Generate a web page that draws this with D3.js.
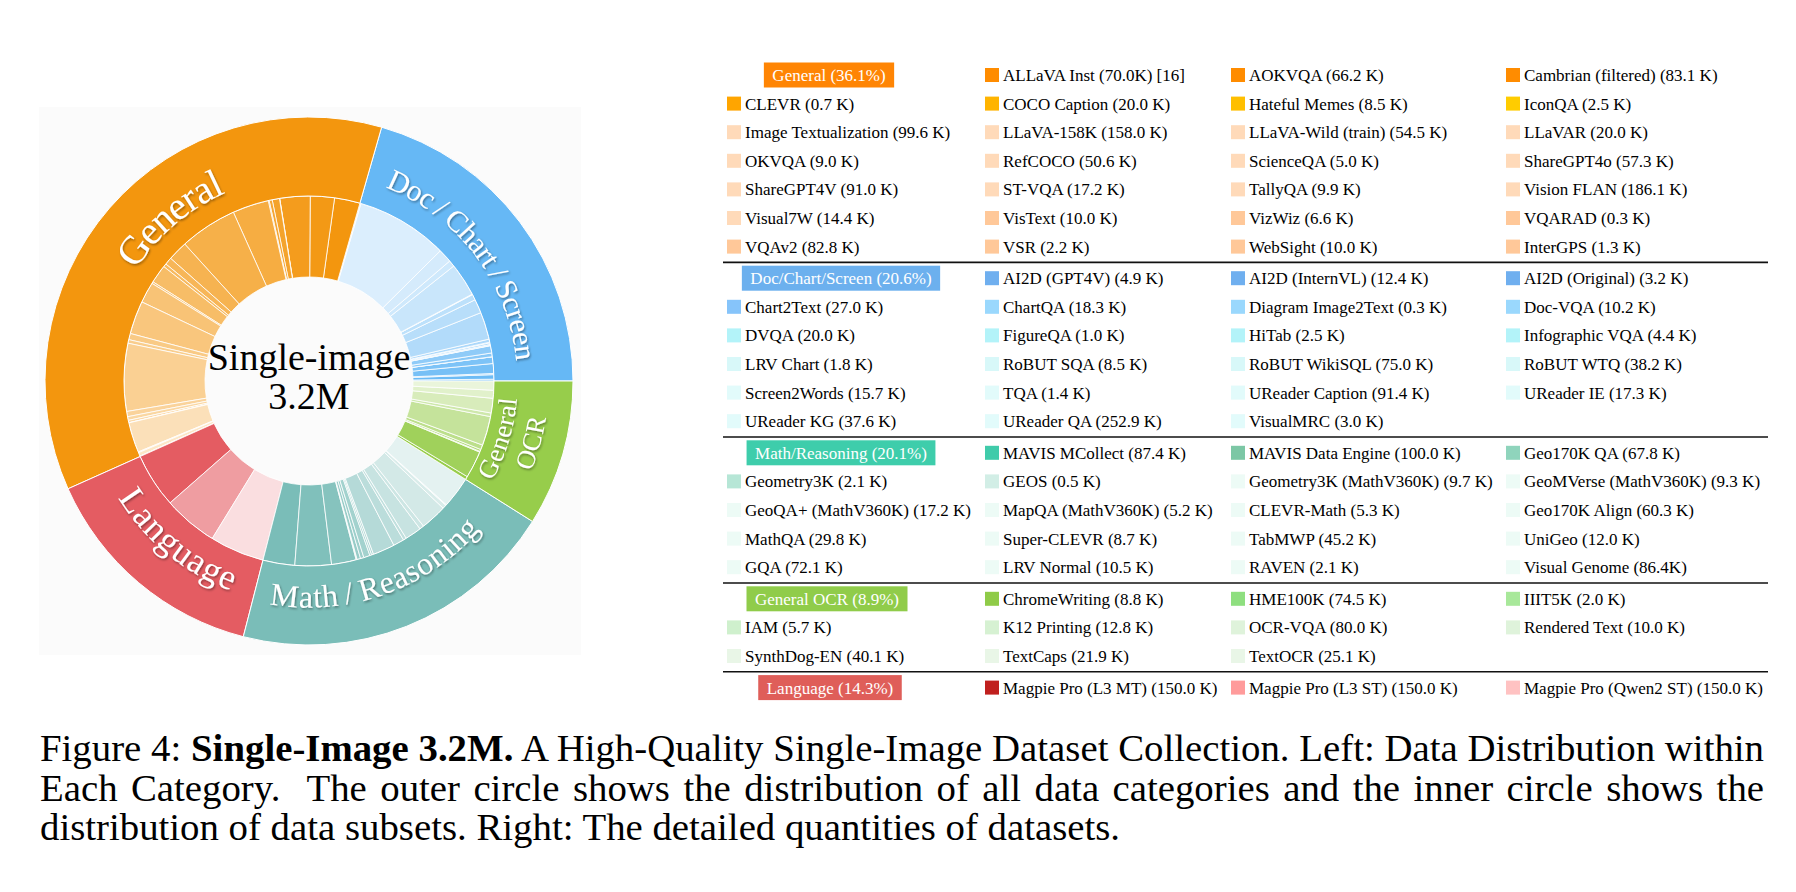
<!DOCTYPE html>
<html><head><meta charset="utf-8">
<script src="https://cdn.jsdelivr.net/npm/d3@7"></script>
<style>body{margin:0;background:#fff;} svg{display:block;}</style>
</head><body>
<svg id="chart" width="1796" height="892"></svg>
<script>
// ---------------- DATA (values in K) ----------------
const generalNames = ["ALLaVA Inst","AOKVQA","Cambrian (filtered)","CLEVR","COCO Caption","Hateful Memes","IconQA","Image Textualization","LLaVA-158K","LLaVA-Wild (train)","LLaVAR","OKVQA","RefCOCO","ScienceQA","ShareGPT4o","ShareGPT4V","ST-VQA","TallyQA","Vision FLAN","Visual7W","VisText","VizWiz","VQARAD","VQAv2","VSR","WebSight","InterGPS"];
const generalValues = [70.0,66.2,83.1,0.7,20.0,8.5,2.5,99.6,158.0,54.5,20.0,9.0,50.6,5.0,57.3,91.0,17.2,9.9,186.1,14.4,10.0,6.6,0.3,82.8,2.2,10.0,1.3];

const docNames = ["AI2D (GPT4V)","AI2D (InternVL)","AI2D (Original)","Chart2Text","ChartQA","Diagram Image2Text","Doc-VQA","DVQA","FigureQA","HiTab","Infographic VQA","LRV Chart","RoBUT SQA","RoBUT WikiSQL","RoBUT WTQ","Screen2Words","TQA","UReader Caption","UReader IE","UReader KG","UReader QA","VisualMRC"];
const docValues = [4.9,12.4,3.2,27.0,18.3,0.3,10.2,20.0,1.0,2.5,4.4,1.8,8.5,75.0,38.2,15.7,1.4,91.4,17.3,37.6,252.9,3.0];

const mathNames = ["MAVIS MCollect","MAVIS Data Engine","Geo170K QA","Geometry3K","GEOS","Geometry3K (MathV360K)","GeoMVerse (MathV360K)","GeoQA+ (MathV360K)","MapQA (MathV360K)","CLEVR-Math","Geo170K Align","MathQA","Super-CLEVR","TabMWP","UniGeo","GQA","LRV Normal","RAVEN","Visual Genome"];
const mathValues = [87.4,100.0,67.8,2.1,0.5,9.7,9.3,17.2,5.2,5.3,60.3,29.8,8.7,45.2,12.0,72.1,10.5,2.1,86.4];

const ocrNames = ["ChromeWriting","HME100K","IIIT5K","IAM","K12 Printing","OCR-VQA","Rendered Text","SynthDog-EN","TextCaps","TextOCR"];
const ocrValues = [8.8,74.5,2.0,5.7,12.8,80.0,10.0,40.1,21.9,25.1];

const languageNames = ["Magpie Pro (L3 MT)","Magpie Pro (L3 ST)","Magpie Pro (Qwen2 ST)"];
const languageValues = [150.0,150.0,150.0];

const categoryNames = ["General","Doc/Chart/Screen","Math/Reasoning","General OCR","Language"];
const categoryRingLabels = [["General"],["Doc\u2009/\u2009Chart\u2009/\u2009Screen"],["Math\u2009/\u2009Reasoning"],["General","OCR"],["Language"]];
const centerLabel = ["Single-image","3.2M"];
const compactUnitNames = ["ALLaVA Inst","Visual Genome"];
const citationSuffix = {"ALLaVA Inst":" [16]"};
const captionLines = [
  [["Figure 4: ",false],["Single-Image 3.2M.",true],[" A High-Quality Single-Image Dataset Collection. Left: Data Distribution within",false]],
  [["Each Category.  The outer circle shows the distribution of all data categories and the inner circle shows the",false]],
  [["distribution of data subsets. Right: The detailed quantities of datasets.",false]]
];

// ---------------- STYLES ----------------
const ringColors = {"General":"#F3960E","Doc/Chart/Screen":"#66B8F5","Math/Reasoning":"#7ABDB8","General OCR":"#97CD4B","Language":"#E45C62"};
const headerColors = {"General":"#FF8504","Doc/Chart/Screen":"#6CB0EE","Math/Reasoning":"#3ECDAB","General OCR":"#90CC4A","Language":"#DF5E59"};
const headerCenters = {"General":829,"Doc/Chart/Screen":841,"Math/Reasoning":841,"General OCR":827,"Language":830};
const rep = (c,n)=>Array(n).fill(c);
const swatchColors = {
  "General":[...rep("#FF8C00",3),"#FFA500","#FFB400","#FFBF00","#FFCC00",...rep("#FFDAB9",13),...rep("#FFC899",7)],
  "Doc/Chart/Screen":[...rep("#6FAFEF",3),"#86C4FA",...rep("#9AD8FD",3),...rep("#B3F3F9",4),...rep("#D8F8F9",4),...rep("#E2FBFB",7)],
  "Math/Reasoning":["#40CBAA","#7CC7A5","#8FD4BC","#B6E6D6","#D2EEE6",...rep("#EDFBF6",14)],
  "General OCR":["#8FCB48","#8EDF7F","#A8E89A","#CFF0CD","#D6F1D2","#DFF3DB","#DFF3DB",...rep("#E9F6E7",3)],
  "Language":["#C0201E","#FF9B9B","#FFC2C2"]
};

// ---------------- BUILD ----------------
const groups = {
  "General":{names:generalNames,values:generalValues},
  "Doc/Chart/Screen":{names:docNames,values:docValues},
  "Math/Reasoning":{names:mathNames,values:mathValues},
  "General OCR":{names:ocrNames,values:ocrValues},
  "Language":{names:languageNames,values:languageValues}
};
const grandTotal = d3.sum(categoryNames, c=>d3.sum(groups[c].values));

const svg = d3.select("#chart");
svg.append("rect").attr("width",1796).attr("height",892).attr("fill","#fff");
const defs = svg.append("defs");
const f = defs.append("filter").attr("id","sh").attr("x","-20%").attr("y","-20%").attr("width","140%").attr("height","140%");
f.append("feDropShadow").attr("dx",1).attr("dy",1.5).attr("stdDeviation",1.2).attr("flood-color","#000").attr("flood-opacity",0.4);

const cx=309, cy=381, R0=104, R1=185, R2=264;
svg.append("rect").attr("x",cx-R2-6).attr("y",cy-R2-10).attr("width",2*R2+14).attr("height",2*R2+20).attr("fill","#FBFBFB");

const g = svg.append("g").attr("transform",`translate(${cx},${cy})`);
// ring order counter-clockwise from 3 o'clock
const ringOrder = ["Doc/Chart/Screen","General","Language","Math/Reasoning","General OCR"];
const pie = d3.pie().sort(null).value(d=>d.value).startAngle(Math.PI/2).endAngle(Math.PI/2-2*Math.PI);

const outerData = pie(ringOrder.map(c=>({cat:c,value:d3.sum(groups[c].values)})));
const innerItems = [];
ringOrder.forEach(c=>{
  const n = groups[c].values.length;
  groups[c].values.forEach((v,i)=>innerItems.push({cat:c,value:v,i,n}));
});
const innerData = pie(innerItems);

const outerArc = d3.arc().innerRadius(R1).outerRadius(R2);
const innerArc = d3.arc().innerRadius(R0).outerRadius(R1);

g.selectAll("path.inner").data(innerData).join("path").attr("class","inner")
  .attr("d",innerArc)
  .attr("fill",d=>d3.interpolateRgb(ringColors[d.data.cat],"#ffffff")(d.data.n>1?0.8*d.data.i/(d.data.n-1):0))
  .attr("stroke","#fff").attr("stroke-width",0.8);
g.selectAll("path.outer").data(outerData).join("path").attr("class","outer")
  .attr("d",outerArc).attr("fill",d=>ringColors[d.data.cat])
  .attr("stroke","#fff").attr("stroke-width",1);

// curved labels
const labelLayout = {
  "General":[{a:-40.5,r:219,cw:true,size:40}],
  "Doc/Chart/Screen":[{a:53,r:218,cw:true,size:30}],
  "Math/Reasoning":[{a:160.5,r:216,cw:false,size:32}],
  "Language":[{a:219.5,r:212,cw:false,size:36}],
  "General OCR":[{a:106.8,r:200,cw:false,size:26.5},{a:105.5,r:231,cw:false,size:26.5}]
};
const rad = Math.PI/180;
function arcPath(a, r, cw){
  const span = 170;
  const a0 = cw ? a-span/2 : a+span/2, a1 = cw ? a+span/2 : a-span/2;
  const p = t=>[r*Math.sin(t*rad), -r*Math.cos(t*rad)];
  const [x0,y0]=p(a0),[x1,y1]=p(a1);
  return `M${x0},${y0} A${r},${r} 0 0 ${cw?1:0} ${x1},${y1}`;
}
let pid=0;
categoryNames.forEach((c,ci)=>{
  categoryRingLabels[ci].forEach((txt,li)=>{
    const L = labelLayout[c][li];
    const id = "lp"+(pid++);
    defs.append("path").attr("id",id).attr("d",arcPath(L.a,L.r,L.cw));
    g.append("text").attr("font-family","'Liberation Serif','Times New Roman',serif")
      .attr("font-size",L.size).attr("fill","#fff").attr("filter","url(#sh)")
      .attr("dy","0.33em")
      .append("textPath").attr("href","#"+id).attr("startOffset","50%").attr("text-anchor","middle").text(txt);
  });
});

// center label
g.append("text").attr("text-anchor","middle").attr("font-family","'Liberation Serif','Times New Roman',serif")
  .attr("font-size",38).attr("fill","#000")
  .selectAll("tspan").data(centerLabel).join("tspan").attr("x",0).attr("y",(d,i)=>i===0?-11:28).text(d=>d);

// ---------------- LEGEND ----------------
const LG = {colX:[727,985,1231,1506], sw:14, tdx:18, rowH:28.6, gap:3, top:75, pad:17, x0:723, x1:1768, fs:17};
const legend = svg.append("g").attr("font-family","'Liberation Serif','Times New Roman',serif").attr("font-size",LG.fs);
let y = LG.top;
categoryNames.forEach((c,gi)=>{
  const gr = groups[c];
  const pct = d3.format(".1f")(d3.sum(gr.values)/grandTotal*100);
  const cells = [{header:true}].concat(gr.names.map((n,i)=>({n,v:gr.values[i],col:swatchColors[c][i]})));
  cells.forEach((cell,k)=>{
    const row = Math.floor(k/4), col = k%4;
    const yy = y + row*LG.rowH;
    if(cell.header){
      const hx = headerCenters[c];
      const t = legend.append("text").attr("x",hx).attr("y",yy+6).attr("text-anchor","middle").attr("fill","#fff").text(`${c} (${pct}%)`);
      const w = t.node().getComputedTextLength()+LG.pad;
      legend.insert("rect","text").attr("x",hx-w/2).attr("y",yy-12.5).attr("width",w).attr("height",25).attr("fill",headerColors[c]);
    } else {
      legend.append("rect").attr("x",LG.colX[col]).attr("y",yy-7).attr("width",LG.sw).attr("height",LG.sw).attr("fill",cell.col);
      const sep = compactUnitNames.includes(cell.n)?"":" ";
      legend.append("text").attr("x",LG.colX[col]+LG.tdx).attr("y",yy+6).attr("fill","#000")
        .text(`${cell.n} (${cell.v.toFixed(1)}${sep}K)${citationSuffix[cell.n]||""}`);
    }
  });
  const nRows = Math.ceil(cells.length/4);
  const lastY = y + (nRows-1)*LG.rowH;
  if(gi<categoryNames.length-1){
    const ly = lastY + (LG.rowH+LG.gap)/2;
    legend.append("line").attr("x1",LG.x0).attr("x2",LG.x1).attr("y1",ly).attr("y2",ly).attr("stroke","#111").attr("stroke-width",1.6);
  }
  y = lastY + LG.rowH + LG.gap;
});

// ---------------- CAPTION ----------------
const CAP = {x:40, width:1724, y0:761, lh:39.5, fs:38.8};
captionLines.forEach((parts,li)=>{
  const t = svg.append("text").attr("x",CAP.x).attr("y",CAP.y0+li*CAP.lh)
    .attr("font-family","'Liberation Serif','Times New Roman',serif").attr("font-size",CAP.fs).attr("fill","#000")
    .attr("xml:space","preserve");
  parts.forEach(([s,b])=>t.append("tspan").attr("font-weight",b?"bold":"normal").text(s));
  if(li<captionLines.length-1){
    const nat = t.node().getComputedTextLength();
    const diff = CAP.width-nat;
    if(diff>=0){
      const spaces = (t.text().match(/ /g)||[]).length;
      t.attr("word-spacing",diff/spaces);
    } else {
      t.attr("letter-spacing",diff/t.text().length);
    }
  }
});
</script>
</body></html>
